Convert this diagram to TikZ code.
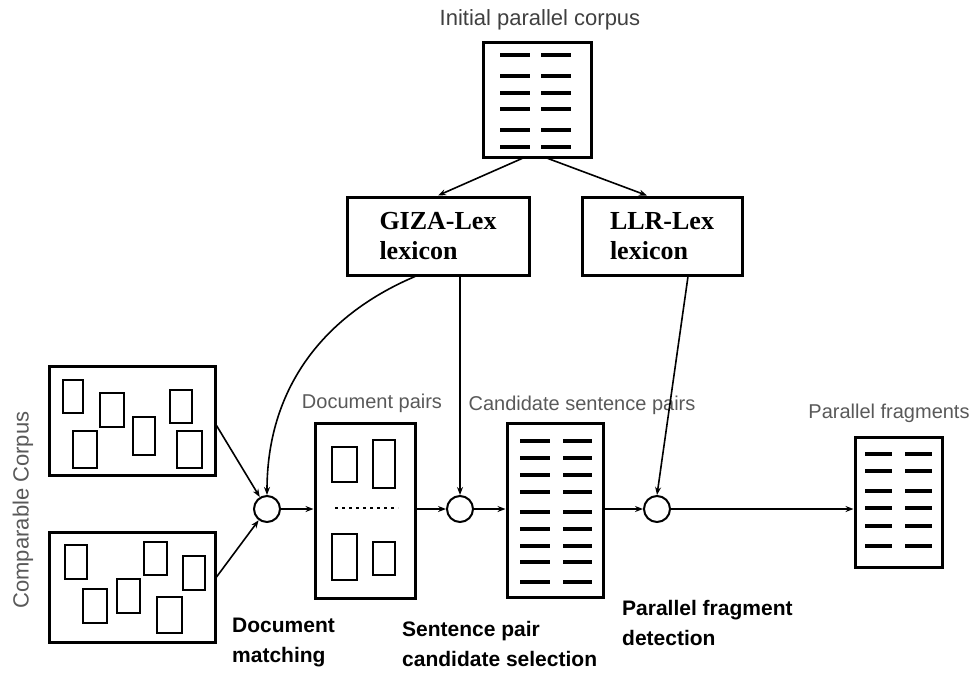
\documentclass[tikz,border=0pt]{standalone}
\usepackage{fontspec}
\setmainfont{Liberation Serif}
\setsansfont{Liberation Sans}
\usetikzlibrary{arrows.meta,calc}
\definecolor{labelgray}{gray}{0.35}
\definecolor{titlegray}{gray}{0.25}
\begin{document}
\begin{tikzpicture}[x=1pt,y=-1pt,
  box/.style={draw, line width=3pt, inner sep=0pt, outer sep=1.5pt},
  docrect/.style={draw, line width=2.8pt},
  bar/.style={line width=3.5pt},
  joint/.style={circle, draw, line width=2pt, minimum size=26pt, inner sep=0pt, outer sep=1pt, fill=white},
  arr/.style={line width=1.6pt, -{Stealth[length=8pt,width=6pt]}},
  lbl/.style={font=\sffamily\fontsize{20}{24}\selectfont, text=labelgray, inner sep=0pt},
  stage/.style={font=\sffamily\bfseries\fontsize{21}{30}\selectfont, align=left, inner sep=0pt, anchor=west},
  lex/.style={box, font=\bfseries\fontsize{26}{30}\selectfont, align=left}]

\useasboundingbox (0,0) rectangle (969,675);

% ---- boxes ----
\node[box, minimum width=108, minimum height=115] (init) at (537,99.5) {};
\node[lex, minimum width=182, minimum height=78] (giza) at (438,236) {GIZA-Lex\\lexicon};
\node[lex, minimum width=160, minimum height=78] (llr) at (662,236) {LLR-Lex\\lexicon};
\node[box, minimum width=166, minimum height=109] (cc1) at (132,420.5) {};
\node[box, minimum width=166, minimum height=110] (cc2) at (132,587) {};
\node[box, minimum width=100, minimum height=175] (docp) at (365,510.5) {};
\node[box, minimum width=96, minimum height=174] (cand) at (555,510) {};
\node[box, minimum width=87, minimum height=130] (frag) at (898.5,502) {};

% ---- joining points ----
\node[joint] (c1) at (267,509) {};
\node[joint] (c2) at (460,509) {};
\node[joint] (c3) at (657,509) {};

% ---- labels ----
\node[lbl, text=titlegray, font=\sffamily\fontsize{22}{26}\selectfont] (tinit) at (540,20) {Initial parallel corpus};
\node[lbl, font=\sffamily\fontsize{22}{26}\selectfont, rotate=90] (tcc) at (23,510) {Comparable Corpus};
\node[lbl] (tdocp) at (372,403) {Document pairs};
\node[lbl] (tcand) at (582,405) {Candidate sentence pairs};
\node[lbl] (tfrag) at (889,413) {Parallel fragments};

\node[stage] (s1) at (232,642) {Document\\matching};
\node[stage] (s2) at (402,644) {Sentence pair\\candidate selection};
\node[stage] (s3) at (622,623) {Parallel fragment\\detection};

% ---- sentence lists ----
\foreach \y in {55,76,93,109,130,147}{
  \draw[bar] (500,\y) -- (530,\y);
  \draw[bar] (541,\y) -- (571,\y);
}
\foreach \y in {441,458,475,492,512,529,546,562,582}{
  \draw[bar] (520,\y) -- (550,\y);
  \draw[bar] (563,\y) -- (592,\y);
}
\foreach \y in {454,471,491,508,526,546}{
  \draw[bar] (865,\y) -- (892,\y);
  \draw[bar] (905,\y) -- (932,\y);
}

% ---- documents in the comparable corpus ----
\draw[docrect] (63,380) rectangle (83,413);
\draw[docrect] (100,393) rectangle (124,427);
\draw[docrect] (170,390) rectangle (192,423);
\draw[docrect] (73,431) rectangle (97,468);
\draw[docrect] (133,417) rectangle (155,455);
\draw[docrect] (177,431) rectangle (202,468);

\draw[docrect] (65,545) rectangle (87,579);
\draw[docrect] (144,542) rectangle (167,575);
\draw[docrect] (183,556) rectangle (205,590);
\draw[docrect] (117,579) rectangle (140,613);
\draw[docrect] (83,589) rectangle (107,623);
\draw[docrect] (157,597) rectangle (182,633);

% ---- document pairs ----
\draw[docrect] (332,447) rectangle (357,482);
\draw[docrect] (373,440) rectangle (395,488);
\draw[docrect] (332,534) rectangle (357,580);
\draw[docrect] (373,542) rectangle (395,575);
\draw[line width=2.4pt, dash pattern=on 3pt off 4pt] (335,508) -- (398,508);

% ---- connectors ----
\draw[arr] ([xshift=-15pt]init.south) -- (giza.north);
\draw[arr] ([xshift=11pt]init.south) -- ([xshift=-15pt]llr.north);
\draw[arr] ([xshift=-23pt]giza.south) to[out=203, in=90] (c1.north);
\draw[arr] (c2.north |- giza.south) -- (c2.north);
\draw[arr] ([xshift=26pt]llr.south) -- (c3.north);

\draw[arr] ([yshift=-5pt]cc1.east) -- (c1);
\draw[arr] ([yshift=10pt]cc2.east) -- (c1);
\draw[arr] (c1) -- (c1 -| docp.west);
\draw[arr] (docp.east |- c2) -- (c2);
\draw[arr] (c2) -- (c2 -| cand.west);
\draw[arr] (cand.east |- c3) -- (c3);
\draw[arr] (c3) -- (c3 -| frag.west);
\end{tikzpicture}
\end{document}
